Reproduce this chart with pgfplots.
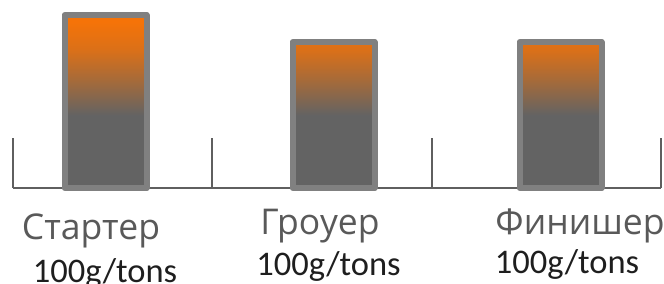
\documentclass[border=0pt]{standalone}
\usepackage{pgfplots}
\pgfplotsset{compat=1.18}
\usepackage{fontspec}
\setmainfont{Carlito}
\newfontfamily\catfont{Open Sans}
\newfontfamily\unitfont{Carlito}
\definecolor{barOrange}{RGB}{245,115,8}
\definecolor{barGray}{RGB}{99,99,99}
\definecolor{barBorder}{RGB}{128,128,128}
\definecolor{lineGray}{RGB}{95,95,95}
\definecolor{catText}{RGB}{89,89,89}
\definecolor{unitText}{RGB}{30,30,30}
\colorlet{barMidA}{barOrange!45!barGray}
\colorlet{barMidB}{barOrange!82!barGray}
\pgfdeclareverticalshading{barshade}{100bp}{color(0bp)=(barGray); color(46bp)=(barGray); color(56bp)=(barMidA); color(65bp)=(barMidB); color(73bp)=(barOrange); color(100bp)=(barOrange)}
\begin{document}
\begin{tikzpicture}
\begin{axis}[
  name=main,
  width=664bp, height=284bp, scale only axis,
  xmin=0, xmax=664, ymin=-96, ymax=188,
  hide axis, clip=false,
]
% baseline and separators
\addplot[lineGray, line width=2bp, no marks] coordinates {(13,0) (661,0)};
\addplot[lineGray, line width=2bp, no marks] coordinates {(13,0) (13,50)};
\addplot[lineGray, line width=2bp, no marks] coordinates {(212,0) (212,50)};
\addplot[lineGray, line width=2bp, no marks] coordinates {(432,0) (432,50)};
\addplot[lineGray, line width=2bp, no marks] coordinates {(661,0) (661,50)};
% bars
\addplot[ybar, bar width=82bp, draw=barBorder, line width=6bp, line join=round, shading=barshade]
  coordinates {(105.5,173) (333.5,146) (560.5,146)};
% labels
\node[anchor=base, text=catText, font=\catfont\fontsize{35.5bp}{40bp}\selectfont] at (axis cs:91,-52) {Стартер};
\node[anchor=base, text=catText, font=\catfont\fontsize{35.5bp}{40bp}\selectfont] at (axis cs:320,-47) {Гроуер};
\node[anchor=base, text=catText, font=\catfont\fontsize{35.5bp}{40bp}\selectfont] at (axis cs:580,-47) {Финишер};
\node[anchor=base, text=unitText, font=\unitfont\fontsize{34.5bp}{40bp}\selectfont] at (axis cs:105,-94) {100g/tons};
\node[anchor=base, text=unitText, font=\unitfont\fontsize{34.5bp}{40bp}\selectfont] at (axis cs:328.5,-87) {100g/tons};
\node[anchor=base, text=unitText, font=\unitfont\fontsize{34.5bp}{40bp}\selectfont] at (axis cs:567,-85) {100g/tons};
\end{axis}
\pgfresetboundingbox
\path[use as bounding box] (main.south west) rectangle (main.north east);
\end{tikzpicture}
\end{document}
